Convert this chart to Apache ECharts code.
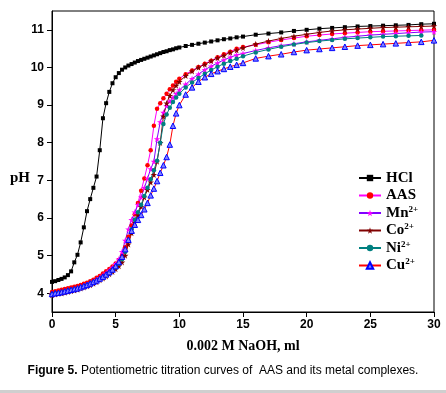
<!DOCTYPE html>
<html>
<head>
<meta charset="utf-8">
<script src="https://cdn.jsdelivr.net/npm/echarts@6/dist/echarts.min.js"></script>
<style>
  html, body { margin: 0; padding: 0; background: #fff; }
  #chart { width: 446px; height: 393px; }
</style>
</head>
<body>
<div id="chart"></div>
<script>
// volume of 0.002 M NaOH added (ml)
var volume = [0, 0.25, 0.5, 0.75, 1, 1.25, 1.5, 1.75, 2, 2.25, 2.5, 2.75, 3, 3.25, 3.5, 3.75, 4, 4.25, 4.5, 4.75,
  5, 5.25, 5.5, 5.75, 6, 6.25, 6.5, 6.75, 7, 7.25, 7.5, 7.75, 8, 8.25, 8.5, 8.75, 9, 9.25, 9.5, 9.75,
  10, 10.5, 11, 11.5, 12, 12.5, 13, 13.5, 14, 14.5, 15,
  16, 17, 18, 19, 20, 21, 22, 23, 24, 25, 26, 27, 28, 29, 30];

var phHCl = [4.30, 4.32, 4.35, 4.38, 4.42, 4.48, 4.58, 4.82, 5.02, 5.35, 5.75, 6.18, 6.50, 6.80, 7.10, 7.80, 8.65, 9.05, 9.35, 9.58,
  9.74, 9.85, 9.94, 10.00, 10.05, 10.09, 10.13, 10.17, 10.20, 10.23, 10.26, 10.29, 10.32, 10.35, 10.38, 10.41, 10.43, 10.46, 10.48, 10.51,
  10.53, 10.57, 10.60, 10.63, 10.66, 10.69, 10.72, 10.75, 10.77, 10.80, 10.82,
  10.87, 10.90, 10.93, 10.97, 11.00, 11.03, 11.05, 11.07, 11.09, 11.10, 11.11, 11.12, 11.13, 11.15, 11.16];

var phAAS = [4.03, 4.05, 4.07, 4.09, 4.11, 4.13, 4.15, 4.17, 4.19, 4.22, 4.25, 4.28, 4.32, 4.36, 4.41, 4.46, 4.52, 4.58, 4.64, 4.71,
  4.79, 4.88, 5.00, 5.22, 5.50, 5.80, 6.10, 6.40, 6.72, 7.05, 7.40, 7.80, 8.45, 8.90, 9.05, 9.18, 9.30, 9.42, 9.52, 9.62,
  9.70, 9.82, 9.92, 10.01, 10.10, 10.18, 10.27, 10.35, 10.42, 10.50, 10.54,
  10.60, 10.67, 10.73, 10.78, 10.83, 10.86, 10.89, 10.91, 10.93, 10.95, 10.96, 10.97, 10.98, 10.99, 11.00];

var phMn = [3.97, 3.99, 4.01, 4.03, 4.05, 4.07, 4.09, 4.11, 4.14, 4.17, 4.20, 4.23, 4.27, 4.31, 4.36, 4.41, 4.47, 4.53, 4.60, 4.68,
  4.78, 4.90, 5.10, 5.40, 5.70, 5.95, 6.15, 6.35, 6.55, 6.80, 7.05, 7.30, 7.50, 8.10, 8.55, 8.80, 8.98, 9.10, 9.20, 9.30,
  9.40, 9.55, 9.70, 9.82, 9.94, 10.03, 10.12, 10.20, 10.27, 10.33, 10.37,
  10.45, 10.52, 10.58, 10.63, 10.68, 10.72, 10.76, 10.80, 10.83, 10.86, 10.88, 10.90, 10.92, 10.94, 10.95];

var phCo = [3.95, 3.97, 3.99, 4.00, 4.02, 4.04, 4.06, 4.08, 4.10, 4.13, 4.16, 4.19, 4.22, 4.26, 4.30, 4.35, 4.40, 4.45, 4.51, 4.57,
  4.64, 4.72, 4.82, 5.00, 5.30, 5.60, 5.88, 6.08, 6.30, 6.55, 6.75, 6.95, 7.15, 7.50, 8.00, 8.70, 9.05, 9.25, 9.40, 9.52,
  9.62, 9.78, 9.90, 10.00, 10.08, 10.17, 10.25, 10.32, 10.40, 10.46, 10.52,
  10.62, 10.70, 10.77, 10.83, 10.88, 10.93, 10.97, 11.00, 11.02, 11.04, 11.06, 11.07, 11.08, 11.09, 11.10];

// Ni2+ run stops at 29 ml
var phNi = [3.97, 3.99, 4.00, 4.02, 4.04, 4.06, 4.08, 4.10, 4.12, 4.15, 4.18, 4.21, 4.25, 4.29, 4.33, 4.38, 4.43, 4.48, 4.54, 4.61,
  4.69, 4.78, 4.90, 5.10, 5.40, 5.70, 5.95, 6.15, 6.35, 6.58, 6.80, 7.03, 7.27, 7.52, 8.00, 8.50, 8.75, 8.93, 9.08, 9.20,
  9.30, 9.47, 9.60, 9.72, 9.83, 9.93, 10.02, 10.10, 10.17, 10.23, 10.30,
  10.40, 10.48, 10.55, 10.61, 10.66, 10.70, 10.73, 10.76, 10.78, 10.80, 10.82, 10.83, 10.84, 10.85];

var phCu = [3.98, 4.00, 4.01, 4.03, 4.05, 4.07, 4.09, 4.11, 4.13, 4.16, 4.19, 4.22, 4.26, 4.30, 4.34, 4.39, 4.44, 4.50, 4.56, 4.63,
  4.72, 4.83, 4.97, 5.17, 5.42, 5.66, 5.82, 5.95, 6.08, 6.23, 6.40, 6.60, 6.78, 6.98, 7.20, 7.40, 7.62, 7.95, 8.45, 8.78,
  9.00, 9.28, 9.47, 9.62, 9.74, 9.83, 9.90, 9.96, 10.02, 10.07, 10.12,
  10.24, 10.30, 10.35, 10.41, 10.46, 10.49, 10.52, 10.55, 10.58, 10.60, 10.62, 10.64, 10.66, 10.68, 10.72];

var yTicks = [4, 5, 6, 7, 8, 9, 10, 11];

var star = 'path://M50,0 L61,35 L98,35 L68,57 L79,91 L50,70 L21,91 L32,57 L2,35 L39,35 Z';

function pairs(ys) {
  return ys.map(function (y, i) { return [volume[i], y]; });
}

function mkSeries(name, ys, lineColor, symbol, size, fill, border) {
  return {
    name: name,
    type: 'line',
    data: pairs(ys),
    symbol: symbol,
    symbolSize: size,
    showAllSymbol: true,
    lineStyle: { color: lineColor, width: 1 },
    itemStyle: { color: fill, borderColor: border || fill, borderWidth: border ? 1 : 0 },
    emphasis: { disabled: true }
  };
}

var chart = echarts.init(document.getElementById('chart'));
var option = {
  animation: false,
  backgroundColor: '#fff',
  grid: {
    left: 52, right: 12, top: 11, bottom: 81,
    show: true, borderColor: '#000', borderWidth: 1
  },
  legend: {
    orient: 'vertical',
    left: 353,
    top: 165,
    itemWidth: 22,
    itemHeight: 8,
    itemGap: 1.5,
    formatter: function (n) { return n.replace('2+', '{sup|2+}'); },
    textStyle: {
      fontFamily: 'Liberation Serif',
      fontWeight: 'bold',
      fontSize: 15,
      lineHeight: 16,
      color: '#000',
      rich: {
        sup: { fontFamily: 'Liberation Serif', fontWeight: 'bold', fontSize: 9, color: '#000', verticalAlign: 'top', padding: [0, 0, 6, 0] }
      }
    }
  },
  xAxis: {
    type: 'value',
    min: 0, max: 30, interval: 5,
    name: '0.002 M NaOH, ml',
    nameLocation: 'middle',
    nameGap: 27,
    nameTextStyle: { fontFamily: 'Liberation Serif', fontWeight: 'bold', fontSize: 14, color: '#000' },
    axisLine: { lineStyle: { color: '#000', width: 1 } },
    axisTick: { inside: false, length: 5, lineStyle: { color: '#000' } },
    axisLabel: { margin: 7, fontFamily: 'Liberation Sans', fontWeight: 'bold', fontSize: 12, color: '#000' },
    splitLine: { show: false }
  },
  yAxis: {
    type: 'value',
    min: 3.5, max: 11.5,
    axisLine: { show: true, lineStyle: { color: '#000', width: 1 } },
    axisTick: { show: true, inside: false, length: 5, customValues: yTicks, lineStyle: { color: '#000' } },
    axisLabel: { margin: 8, customValues: yTicks, fontFamily: 'Liberation Sans', fontWeight: 'bold', fontSize: 12, color: '#000' },
    splitLine: { show: false }
  },
  graphic: [
    { type: 'text', left: 10, top: 171, style: { text: 'pH', fontFamily: 'Liberation Serif', fontWeight: 'bold', fontSize: 15, fill: '#000' } },
    {
      type: 'text', left: 'center', top: 365,
      style: {
        text: '{b|Figure 5.} Potentiometric titration curves of  AAS and its metal complexes.',
        fontFamily: 'Liberation Sans', fontSize: 12, fill: '#000',
        rich: { b: { fontFamily: 'Liberation Sans', fontSize: 12, fontWeight: 'bold', fill: '#000' } }
      }
    },
    { type: 'rect', left: 0, top: 390, shape: { width: 446, height: 3 }, style: { fill: '#cfcfcf' } }
  ],
  series: [
    mkSeries('HCl', phHCl, '#000000', 'rect', 4, '#000000'),
    mkSeries('AAS', phAAS, '#ff00ff', 'circle', 4.5, '#ff0000'),
    mkSeries('Mn2+', phMn, '#8000ff', star, 6.5, '#ff00ff'),
    mkSeries('Co2+', phCo, '#800000', star, 6.5, '#800000'),
    mkSeries('Ni2+', phNi, '#008080', 'circle', 4.5, '#008080'),
    mkSeries('Cu2+', phCu, '#ff0000', 'triangle', 5.5, '#8080ff', '#0000ff')
  ]
};
chart.setOption(option);
</script>
</body>
</html>
